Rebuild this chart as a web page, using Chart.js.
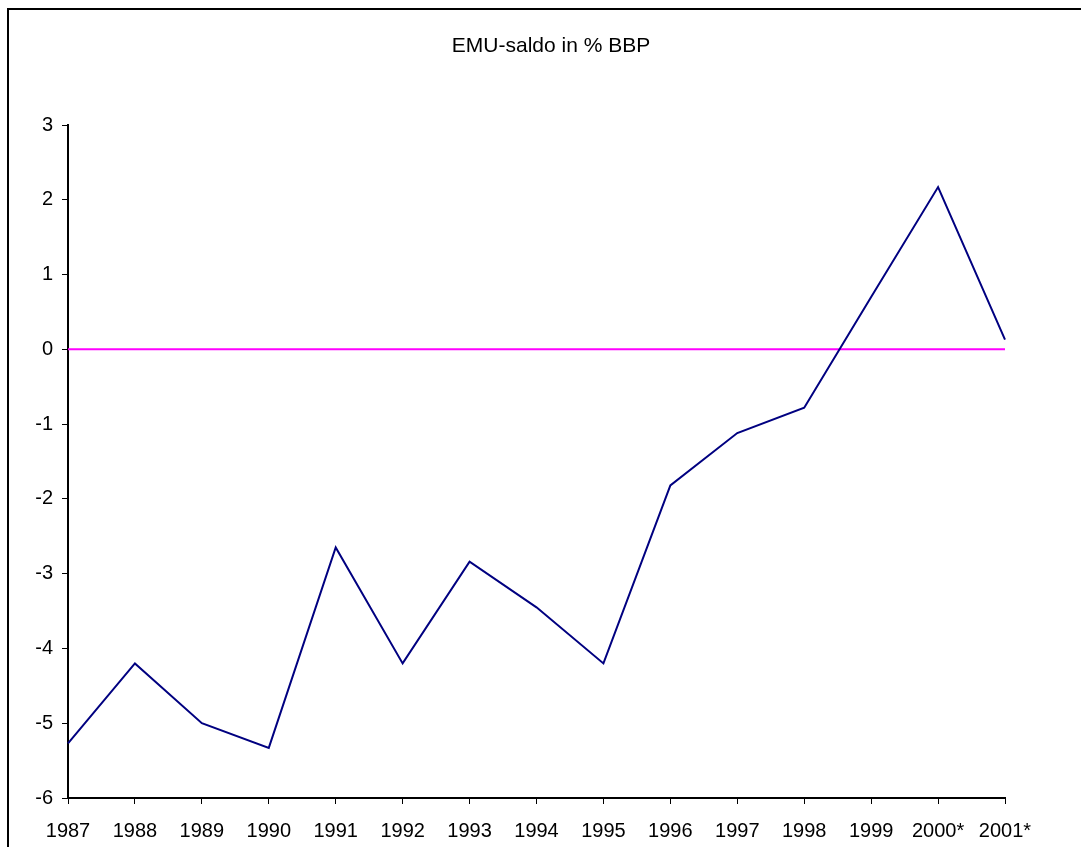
<!DOCTYPE html>
<html>
<head>
<meta charset="utf-8">
<title>EMU-saldo in % BBP</title>
<script src="https://cdn.jsdelivr.net/npm/chart.js@4/dist/chart.umd.min.js"></script>
<style>
    body { margin: 0; background: #ffffff; }
    canvas { display: block; }
</style>
</head>
<body>
<canvas id="chart" width="1081" height="847"></canvas>
<script>
// Gegevens
const chartTitle = "EMU-saldo in % BBP";
const years = ["1987", "1988", "1989", "1990", "1991", "1992", "1993", "1994",
    "1995", "1996", "1997", "1998", "1999", "2000*", "2001*"];
const emuSaldo = [-5.27, -4.2, -5.0, -5.33, -2.65, -4.2, -2.84, -3.45,
    -4.2, -1.82, -1.12, -0.78, 0.7, 2.17, 0.13];
const zeroLine = [0, 0, 0, 0, 0, 0, 0, 0, 0, 0, 0, 0, 0, 0, 0];
const yMin = -6;
const yMax = 3;

// Kader en titel
const framePlugin = {
    id: "frame",
    afterDraw(chart) {
        const ctx = chart.ctx;
        ctx.save();
        ctx.strokeStyle = "#000000";
        ctx.lineWidth = 2;
        ctx.beginPath();
        ctx.moveTo(8, chart.height);
        ctx.lineTo(8, 9);
        ctx.lineTo(chart.width, 9);
        ctx.stroke();

        ctx.fillStyle = "#000000";
        ctx.font = "21px 'Liberation Sans', Arial, sans-serif";
        ctx.textAlign = "center";
        ctx.textBaseline = "middle";
        ctx.fillText(chartTitle, 551, 46);
        ctx.restore();
    }
};

const tickFont = { family: "'Liberation Sans', Arial, sans-serif", size: 20 };

new Chart(document.getElementById("chart"), {
    type: "line",
    data: {
        labels: years,
        datasets: [
            {
                label: "EMU-saldo",
                data: emuSaldo,
                borderColor: "#000080",
                borderWidth: 2,
                pointRadius: 0,
                tension: 0,
                fill: false
            },
            {
                label: "nul",
                data: zeroLine,
                borderColor: "#FF00FF",
                borderWidth: 2,
                pointRadius: 0,
                tension: 0,
                fill: false
            }
        ]
    },
    options: {
        responsive: false,
        animation: false,
        devicePixelRatio: 1,
        layout: { padding: { top: 125, right: 76, left: 0, bottom: 0 } },
        plugins: {
            legend: { display: false },
            title: { display: false },
            tooltip: { enabled: false }
        },
        scales: {
            x: {
                offset: false,
                grid: {
                    drawOnChartArea: false,
                    drawTicks: true,
                    tickLength: 6,
                    tickColor: "#000000",
                    tickWidth: 1
                },
                border: { display: true, color: "#000000", width: 2 },
                ticks: {
                    color: "#000000",
                    font: tickFont,
                    padding: 15,
                    maxRotation: 0,
                    autoSkip: false
                },
                afterFit(scale) { scale.height = 49; }
            },
            y: {
                min: yMin,
                max: yMax,
                grid: {
                    drawOnChartArea: false,
                    drawTicks: true,
                    tickLength: 6,
                    tickColor: "#000000",
                    tickWidth: 1
                },
                border: { display: true, color: "#000000", width: 2 },
                ticks: {
                    stepSize: 1,
                    color: "#000000",
                    font: tickFont,
                    padding: 9
                },
                afterFit(scale) { scale.width = 68; }
            }
        }
    },
    plugins: [framePlugin]
});
</script>
</body>
</html>
